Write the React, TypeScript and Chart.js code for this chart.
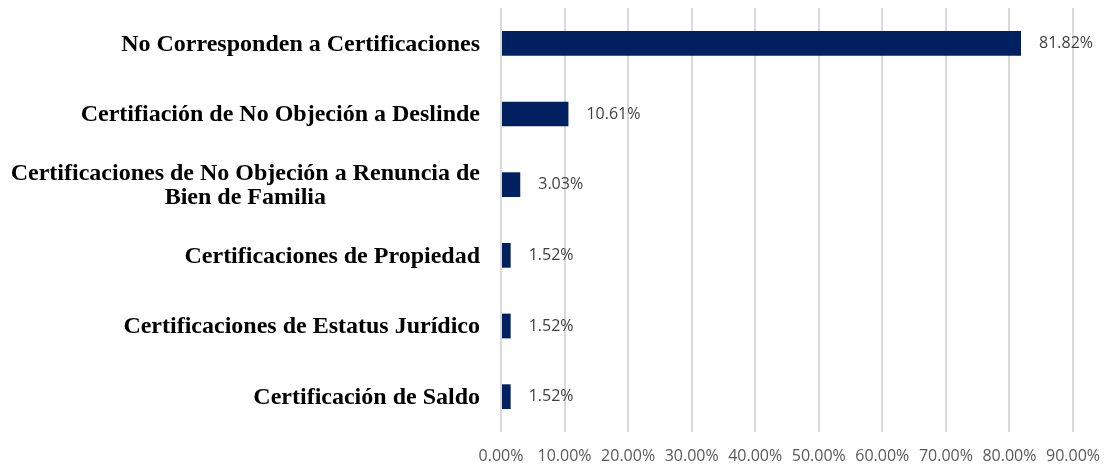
import React, { useEffect, useRef } from "react";
import { Chart, registerables } from "chart.js";

Chart.register(...registerables);

const categories: string[][] = [
  ["No Corresponden a Certificaciones"],
  ["Certifiación de No Objeción a Deslinde"],
  ["Certificaciones de No Objeción a Renuncia de", "Bien de Familia"],
  ["Certificaciones de Propiedad"],
  ["Certificaciones de Estatus Jurídico"],
  ["Certificación de Saldo"],
];
const values: number[] = [81.82, 10.61, 3.03, 1.52, 1.52, 1.52];
const xTicks: number[] = [0, 10, 20, 30, 40, 50, 60, 70, 80, 90];

const yLabelPlugin = {
  id: "yLabels",
  afterDraw(chart: any) {
    const ctx = chart.ctx;
    const y = chart.scales.y;
    const right = chart.chartArea.left - 21;
    ctx.save();
    ctx.font = "bold 24px 'Liberation Serif'";
    ctx.fillStyle = "#000000";
    ctx.textBaseline = "middle";
    ctx.textAlign = "center";
    const lh = 24;
    categories.forEach((lines, i) => {
      const cy = y.getPixelForTick(i) + 1;
      const maxW = Math.max(...lines.map((l) => ctx.measureText(l).width));
      const cx = right - maxW / 2;
      const start = cy - ((lines.length - 1) * lh) / 2;
      lines.forEach((l, j) => ctx.fillText(l, cx, start + j * lh));
    });
    ctx.restore();
  },
};

const dataLabelPlugin = {
  id: "dataLabels",
  afterDatasetsDraw(chart: any) {
    const ctx = chart.ctx;
    const meta = chart.getDatasetMeta(0);
    ctx.save();
    ctx.font = "16px 'Open Sans'";
    ctx.fillStyle = "#404040";
    ctx.textBaseline = "middle";
    ctx.textAlign = "left";
    meta.data.forEach((bar: any, i: number) => {
      ctx.fillText(values[i].toFixed(2) + "%", bar.x + 18, bar.y);
    });
    ctx.restore();
  },
};

export default function App() {
  const ref = useRef<HTMLCanvasElement | null>(null);
  useEffect(() => {
    if (!ref.current) return;
    const chart = new Chart(ref.current, {
      type: "bar",
      data: {
        labels: categories,
        datasets: [
          {
            data: values,
            backgroundColor: "#002060",
            borderWidth: 0,
            categoryPercentage: 1,
            barPercentage: 0.35,
          },
        ],
      },
      options: {
        indexAxis: "y",
        animation: false,
        responsive: false,
        maintainAspectRatio: false,
        layout: { padding: { top: 8, right: 38, left: 0, bottom: 0 } },
        plugins: {
          legend: { display: false },
          tooltip: { enabled: false },
        },
        scales: {
          x: {
            min: 0,
            max: 90,
            afterBuildTicks: (scale: any) => {
              scale.ticks = xTicks.map((v) => ({ value: v }));
            },
            afterFit: (scale: any) => {
              scale.height = 36;
              scale.paddingRight = 0;
              scale.paddingLeft = 0;
            },
            ticks: {
              padding: 15,
              color: "#595959",
              font: { family: "'Open Sans'", size: 16 },
              maxRotation: 0,
              autoSkip: false,
              callback: (v: any) => Number(v).toFixed(2) + "%",
            },
            grid: { color: "#d9d9d9", lineWidth: 2, drawTicks: false },
            border: { display: false },
          },
          y: {
            ticks: { display: false },
            afterFit: (scale: any) => {
              scale.width = 501;
              scale.paddingTop = 0;
              scale.paddingBottom = 0;
            },
            grid: { display: false, drawTicks: false },
            border: { display: false },
          },
        },
      },
      plugins: [yLabelPlugin, dataLabelPlugin],
    });
    return () => chart.destroy();
  }, []);
  return (
    <div style={{ position: "absolute", left: 0, top: 0, width: 1111, height: 468, background: "#ffffff" }}>
      <canvas ref={ref} width={1111} height={468} style={{ width: 1111, height: 468 }} />
    </div>
  );
}
